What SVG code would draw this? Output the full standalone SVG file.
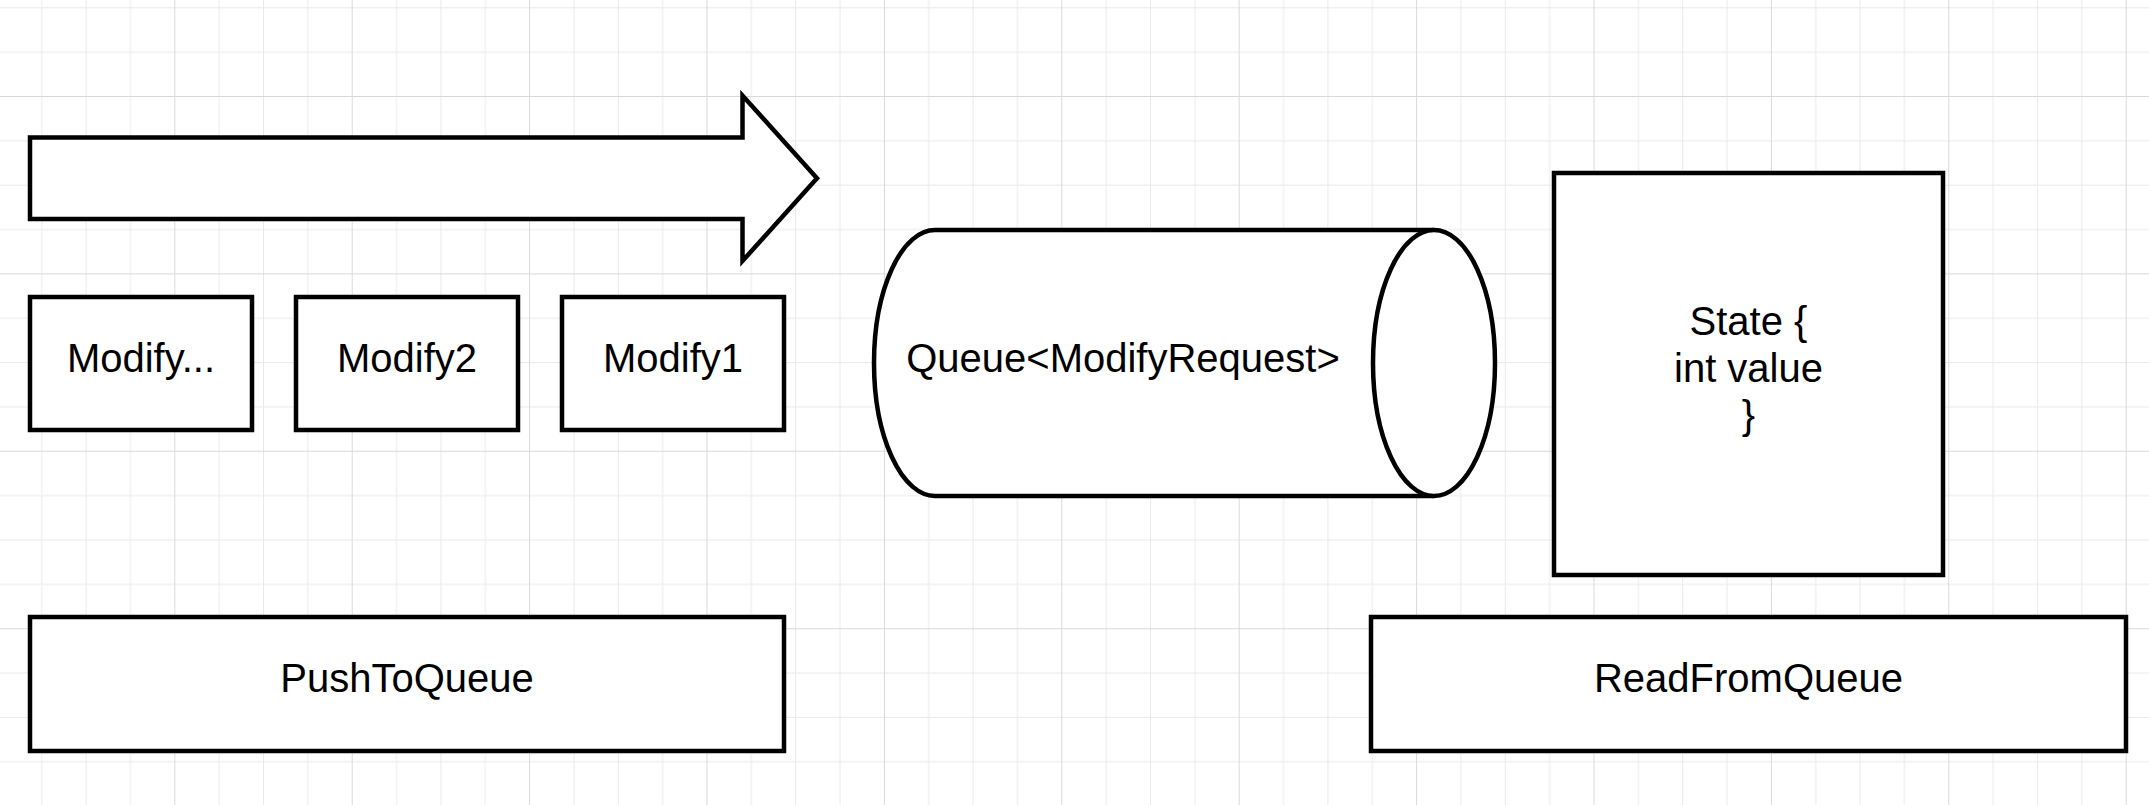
<svg xmlns="http://www.w3.org/2000/svg" width="2149" height="805" viewBox="0 0 2149 805">
  <style>
    .shape { fill: #ffffff; stroke: #000000; stroke-width: 4.5; stroke-linejoin: miter; }
    .label { font-family: "Liberation Sans", Arial, sans-serif; font-size: 40px; fill: #000000; text-anchor: middle; }
  </style>
  <defs>
    <pattern id="grid" patternUnits="userSpaceOnUse" x="174.3" y="96" width="177.4" height="177.4">
      <rect x="44.35" y="0" width="1" height="177.4" fill="#e9e9e9"/>
      <rect x="88.7" y="0" width="1" height="177.4" fill="#e9e9e9"/>
      <rect x="133.05" y="0" width="1" height="177.4" fill="#e9e9e9"/>
      <rect x="0" y="44.35" width="177.4" height="1" fill="#e9e9e9"/>
      <rect x="0" y="88.7" width="177.4" height="1" fill="#e9e9e9"/>
      <rect x="0" y="133.05" width="177.4" height="1" fill="#e9e9e9"/>
      <rect x="0" y="0" width="1" height="177.4" fill="#d9d9d9"/>
      <rect x="0" y="0" width="177.4" height="1" fill="#d9d9d9"/>
    </pattern>
  </defs>
  <rect x="0" y="0" width="2149" height="805" fill="#ffffff"/>
  <rect x="0" y="0" width="2149" height="805" fill="url(#grid)"/>

  <g id="connectors"></g>

  <g id="flow-arrow">
    <path class="shape" d="M30,137.5 L742.5,137.5 L742.5,95.5 L817,178.3 L742.5,261 L742.5,219 L30,219 Z"/>
  </g>

  <g id="modify-n">
    <rect class="shape" x="30" y="297" width="222" height="133"/>
    <text class="label" x="141" y="372">Modify...</text>
  </g>
  <g id="modify2">
    <rect class="shape" x="296" y="297" width="222" height="133"/>
    <text class="label" x="407" y="372">Modify2</text>
  </g>
  <g id="modify1">
    <rect class="shape" x="562" y="297" width="222" height="133"/>
    <text class="label" x="673" y="372">Modify1</text>
  </g>

  <g id="queue">
    <path class="shape" d="M935,230 L1434,230 A61,133 0 0 1 1434,496 L935,496 A61,133 0 0 1 935,230 Z"/>
    <path class="shape" fill="none" d="M1434,230 A61,133 0 0 0 1434,496"/>
    <text class="label" x="1123" y="372">Queue&lt;ModifyRequest&gt;</text>
  </g>

  <g id="state">
    <rect class="shape" x="1554" y="173" width="389" height="402"/>
    <text class="label" x="1748.5" y="335">State {</text>
    <text class="label" x="1748.5" y="382">int value</text>
    <text class="label" x="1748.5" y="429">}</text>
  </g>

  <g id="push-to-queue">
    <rect class="shape" x="30" y="617" width="754" height="134"/>
    <text class="label" x="407" y="692">PushToQueue</text>
  </g>

  <g id="read-from-queue">
    <rect class="shape" x="1371" y="617" width="755" height="134"/>
    <text class="label" x="1748.5" y="692">ReadFromQueue</text>
  </g>
</svg>
